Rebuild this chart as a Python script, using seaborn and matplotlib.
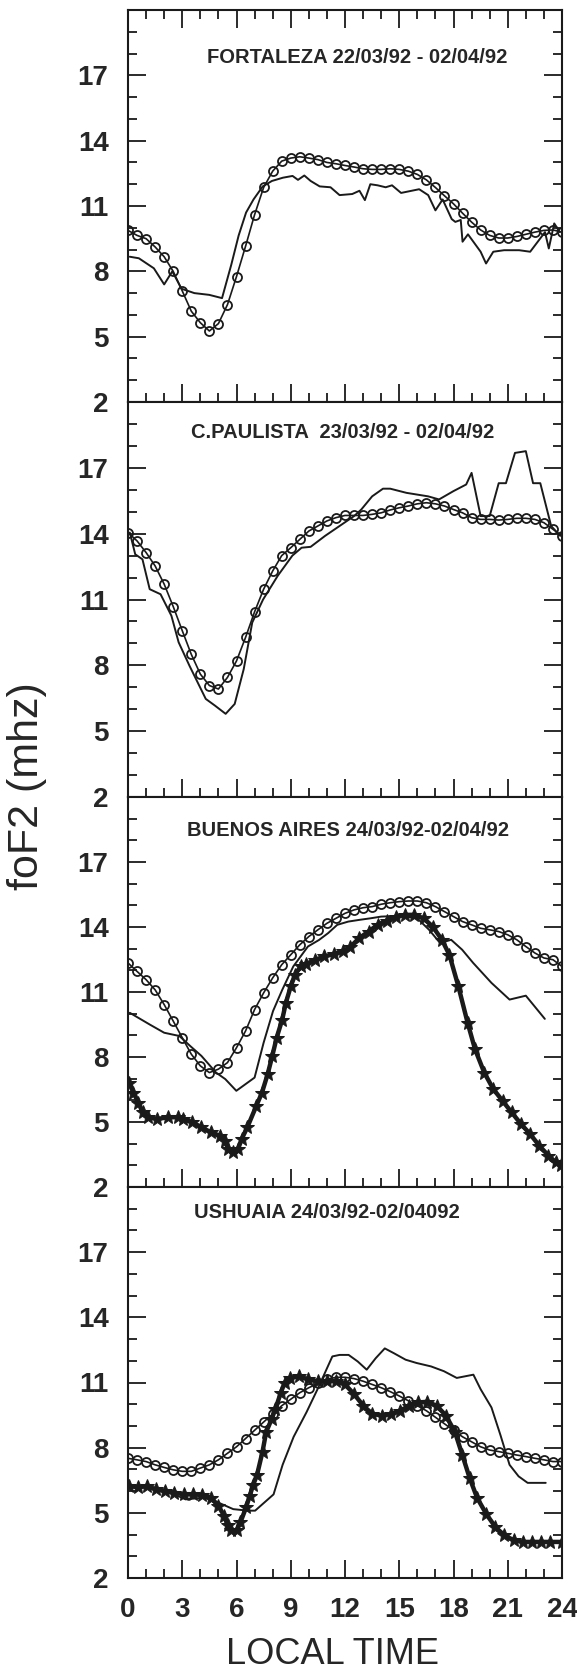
import numpy as np
import seaborn as sns
import matplotlib.pyplot as plt
from matplotlib.ticker import MultipleLocator

# half-hour grid of the model curves (open circles)
half_hours = np.arange(0, 24.5, 0.5)

# FORTALEZA
forta_model = [9.88, 9.65, 9.5, 9.12, 8.67, 8.0, 7.1, 6.17, 5.64, 5.26, 5.6, 6.47, 7.76, 9.15, 10.6, 11.85,
               12.6, 13.06, 13.2, 13.26, 13.2, 13.13, 13.0, 12.94, 12.86, 12.79, 12.71, 12.68, 12.68, 12.71,
               12.68, 12.6, 12.45, 12.2, 11.85, 11.47, 11.1, 10.67, 10.26, 9.9, 9.65, 9.53, 9.53, 9.6, 9.7,
               9.8, 9.88, 9.9, 9.8]
forta_obs_t = [0.1, 0.6, 1.43, 2.0, 2.45, 2.96, 3.67, 4.49, 5.2, 5.71, 6.12, 6.53, 6.94, 7.45, 7.96, 8.57,
               9.1, 9.4, 9.75, 10.1, 10.6, 11.2, 11.7, 12.4, 12.8, 13.1, 13.4, 13.8, 14.25, 14.6, 15.1, 16.1,
               16.6, 17.0, 17.4, 17.9, 18.1, 18.4, 18.5, 18.8, 19.5, 19.8, 20.2, 20.8, 21.63, 22.24, 22.65,
               23.06, 23.27, 23.57, 23.88]
forta_obs = [8.67, 8.6, 8.14, 7.4, 8.0, 7.2, 7.0, 6.92, 6.77, 8.3, 9.65, 10.7, 11.3, 11.9, 12.15, 12.3,
             12.38, 12.2, 12.4, 12.15, 11.9, 11.86, 11.5, 11.55, 11.7, 11.27, 12.0, 11.95, 11.86, 11.95, 11.6,
             11.77, 11.5, 10.8, 11.3, 10.4, 10.27, 10.36, 9.36, 9.7, 8.9, 8.36, 8.9, 8.97, 8.97, 8.9, 9.35,
             9.8, 9.05, 10.2, 9.8]

# C.PAULISTA
cp_model = [14.05, 13.67, 13.14, 12.53, 11.7, 10.68, 9.58, 8.5, 7.6, 7.08, 6.92, 7.45, 8.2, 9.27, 10.44,
            11.47, 12.3, 13.0, 13.36, 13.74, 14.12, 14.35, 14.58, 14.73, 14.83, 14.83, 14.83, 14.88, 14.95,
            15.08, 15.18, 15.26, 15.36, 15.41, 15.36, 15.26, 15.1, 14.95, 14.73, 14.65, 14.65, 14.62, 14.65,
            14.7, 14.7, 14.65, 14.5, 14.2, 13.9]
cp_obs_t = [0.1, 0.4, 0.8, 1.2, 1.8, 2.4, 2.8, 3.4, 4.3, 4.8, 5.4, 5.9, 6.4, 6.87, 7.47, 8.28, 9.09, 9.6,
            10.1, 10.9, 11.7, 12.5, 12.9, 13.5, 14.1, 14.5, 15.4, 16.6, 17.2, 18.0, 18.7, 19.0, 19.5, 20.0,
            20.5, 20.9, 21.4, 22.0, 22.4, 22.8, 23.4, 23.9]
cp_obs = [14.05, 13.06, 12.83, 11.47, 11.24, 10.26, 9.05, 7.98, 6.47, 6.17, 5.79, 6.24, 7.83, 9.95, 11.0,
          12.08, 13.0, 13.36, 13.4, 13.9, 14.35, 14.8, 15.1, 15.7, 16.05, 16.05, 15.86, 15.7, 15.56, 15.94,
          16.24, 16.77, 14.8, 14.8, 16.3, 16.3, 17.68, 17.76, 16.3, 16.3, 14.35, 13.9]

# BUENOS AIRES
ba_model = [12.34, 11.95, 11.57, 11.1, 10.42, 9.66, 8.89, 8.13, 7.59, 7.28, 7.44, 7.74, 8.43, 9.2, 10.19,
            10.96, 11.65, 12.26, 12.72, 13.18, 13.56, 13.87, 14.17, 14.4, 14.63, 14.79, 14.89, 14.94, 15.05,
            15.12, 15.17, 15.2, 15.2, 15.12, 14.94, 14.71, 14.48, 14.25, 14.1, 13.94, 13.87, 13.79, 13.64,
            13.41, 13.1, 12.8, 12.57, 12.49, 12.18]
ba_obs_t = [0.1, 1.2, 2.0, 2.84, 3.45, 4.06, 4.87, 5.38, 5.99, 7.0, 7.5, 8.02, 8.53, 9.14, 9.95, 10.56,
            11.07, 11.57, 12.18, 12.8, 13.4, 14.0, 14.6, 15.4, 16.0, 16.65, 17.26, 17.87, 18.48, 19.09,
            20.1, 21.1, 22.0, 23.05]
ba_obs = [10.04, 9.5, 9.12, 8.97, 8.5, 8.05, 7.28, 6.98, 6.44, 7.05, 8.66, 10.12, 11.1, 12.18, 13.1, 13.4,
          13.72, 14.1, 14.25, 14.33, 14.4, 14.48, 14.5, 14.48, 14.4, 13.87, 13.26, 13.41, 12.95, 12.34,
          11.42, 10.65, 10.83, 9.76]
ba_star_t = [0.04, 0.3, 0.57, 0.81, 1.08, 1.62, 2.23, 2.74, 3.05, 3.55, 4.06, 4.57, 5.08, 5.38, 5.52, 5.79,
             6.09, 6.29, 6.6, 7.1, 7.41, 7.72, 7.98, 8.22, 8.53, 8.73, 9.0, 9.24, 9.54, 9.85, 10.36, 10.86,
             11.37, 11.88, 12.28, 12.79, 13.3, 13.8, 14.31, 14.82, 15.33, 15.84, 16.35, 16.85, 17.36, 17.77,
             18.27, 18.78, 19.19, 19.7, 20.2, 20.71, 21.22, 21.73, 22.23, 22.74, 23.25, 23.65, 23.96]
ba_star = [6.82, 6.36, 5.9, 5.44, 5.22, 5.14, 5.22, 5.22, 5.14, 4.99, 4.76, 4.53, 4.37, 4.14, 3.76, 3.6,
           3.76, 4.22, 4.76, 5.75, 6.36, 7.2, 8.05, 8.89, 9.73, 10.5, 11.26, 11.8, 12.18, 12.29, 12.49,
           12.64, 12.75, 12.87, 13.07, 13.49, 13.79, 14.1, 14.3, 14.48, 14.56, 14.56, 14.4, 14.02, 13.41,
           12.72, 11.26, 9.58, 8.36, 7.28, 6.52, 5.98, 5.44, 4.91, 4.45, 3.91, 3.45, 3.15, 3.0]

# USHUAIA
us_model = [7.51, 7.44, 7.36, 7.21, 7.09, 6.98, 6.91, 6.91, 7.06, 7.21, 7.44, 7.74, 8.04, 8.42, 8.8, 9.18,
            9.55, 9.93, 10.23, 10.53, 10.76, 10.96, 11.14, 11.24, 11.24, 11.18, 11.06, 10.91, 10.76, 10.58,
            10.38, 10.16, 9.93, 9.7, 9.4, 9.1, 8.8, 8.5, 8.27, 8.04, 7.89, 7.82, 7.74, 7.66, 7.59, 7.51,
            7.44, 7.36, 7.36]
us_obs_t = [0.0, 1.36, 2.57, 3.18, 4.2, 5.0, 5.82, 6.63, 7.03, 8.05, 8.55, 9.16, 9.87, 10.48, 11.3, 11.7,
            12.2, 12.7, 13.2, 13.7, 14.2, 14.7, 15.35, 15.95, 16.76, 17.47, 18.18, 19.1, 19.5, 20.1, 20.6,
            21.1, 21.6, 22.1, 22.5, 23.1]
us_obs = [6.3, 6.08, 5.85, 5.62, 5.7, 5.47, 5.17, 5.1, 5.1, 5.85, 7.21, 8.5, 9.63, 10.69, 12.2, 12.27,
          12.27, 11.97, 11.59, 12.12, 12.57, 12.35, 12.05, 11.9, 11.74, 11.52, 11.21, 11.36, 10.69, 9.85,
          8.57, 7.21, 6.68, 6.38, 6.38, 6.38]
us_star_t = [0.04, 0.55, 1.05, 1.56, 2.07, 2.57, 3.08, 3.59, 4.09, 4.6, 5.0, 5.31, 5.51, 5.72, 6.02, 6.22,
             6.53, 6.73, 6.93, 7.14, 7.44, 7.64, 7.95, 8.15, 8.45, 8.66, 8.96, 9.47, 9.97, 10.48, 10.99,
             11.49, 12.0, 12.51, 13.01, 13.52, 14.03, 14.53, 15.04, 15.55, 16.05, 16.56, 17.07, 17.58,
             18.08, 18.49, 18.89, 19.3, 19.81, 20.32, 20.82, 21.33, 21.83, 22.34, 22.85, 23.35, 24.0]
us_star = [6.23, 6.18, 6.23, 6.08, 6.0, 5.93, 5.85, 5.85, 5.82, 5.7, 5.32, 4.87, 4.42, 4.19, 4.19, 4.57,
           5.25, 5.78, 6.3, 6.76, 7.82, 8.72, 9.33, 9.78, 10.53, 10.99, 11.21, 11.29, 11.14, 11.06, 11.06,
           11.06, 10.91, 10.46, 9.93, 9.55, 9.48, 9.55, 9.7, 9.93, 10.08, 10.11, 9.93, 9.48, 8.72, 7.66,
           6.61, 5.7, 4.95, 4.34, 3.96, 3.74, 3.66, 3.66, 3.66, 3.66, 3.66]

titles = ["FORTALEZA 22/03/92 - 02/04/92", "C.PAULISTA  23/03/92 - 02/04/92",
          "BUENOS AIRES 24/03/92-02/04/92", "USHUAIA 24/03/92-02/04092"]
title_pos = [(0.527, 0.878), (0.495, 0.924), (0.508, 0.915), (0.458, 0.934)]
y_ticks = [2, 5, 8, 11, 14, 17]
x_ticks = [0, 3, 6, 9, 12, 15, 18, 21, 24]

panels = [
    (forta_obs_t, forta_obs, forta_model, None, None),
    (cp_obs_t, cp_obs, cp_model, None, None),
    (ba_obs_t, ba_obs, ba_model, ba_star_t, ba_star),
    (us_obs_t, us_obs, us_model, us_star_t, us_star),
]

sns.set_theme(style="ticks")
plt.rcParams['font.family'] = ['Liberation Sans', 'DejaVu Sans']

W, H = 577, 1675
fig = plt.figure(figsize=(W / 100, H / 100), dpi=100)

left_px, right_px = 128, 562
edges = [10, 402, 797, 1187, 1578]

for i, (obs_t, obs_v, model_v, star_t, star_v) in enumerate(panels):
    top, bot = edges[i], edges[i + 1]
    ax = fig.add_axes([left_px / W, 1 - bot / H, (right_px - left_px) / W, (bot - top) / H])

    sns.lineplot(x=obs_t, y=obs_v, ax=ax, color='k', linewidth=1.4, estimator=None, sort=False)
    sns.lineplot(x=half_hours, y=model_v, ax=ax, color='k', linewidth=1.2, marker='o',
                 markersize=6.5, markerfacecolor='none', markeredgecolor='k', markeredgewidth=1.3,
                 estimator=None, sort=False)
    if star_t is not None:
        sns.lineplot(x=star_t, y=star_v, ax=ax, color='k', linewidth=3.2, marker='*',
                     markersize=10.5, markeredgecolor='k', estimator=None, sort=False)

    ax.set_xlim(0, 24)
    ax.set_ylim(2, 20)
    ax.set_xticks(x_ticks)
    ax.set_yticks(y_ticks)
    ax.xaxis.set_minor_locator(MultipleLocator(1))
    ax.yaxis.set_minor_locator(MultipleLocator(1))
    ax.tick_params(which='both', direction='in', left=True, right=True, bottom=True,
                   top=(i == 0), width=1.3, color='k')
    ax.tick_params(which='major', length=13)
    ax.tick_params(which='minor', length=6.5)
    ax.tick_params(axis='y', labelsize=20, pad=14)
    ax.tick_params(axis='x', labelsize=20, pad=14, labelbottom=(i == 3))
    for lbl in ax.get_yticklabels() + ax.get_xticklabels():
        lbl.set_fontweight('bold')
    for sp in ax.spines.values():
        sp.set_visible(True)
        sp.set_linewidth(1.5)
        sp.set_color('k')
    ax.set_xlabel('')
    ax.set_ylabel('')

    ax.text(title_pos[i][0], title_pos[i][1], titles[i], transform=ax.transAxes,
            ha='center', va='center', fontsize=14.5, fontweight='bold')

fig.text(27 / W, 1 - 786 / H, 'foF2 (mhz)', rotation=90, ha='center', va='center', fontsize=31)
fig.text(333 / W, 1 - 1664 / H, 'LOCAL TIME', ha='center', va='baseline', fontsize=26)

fig.savefig('out.png', dpi=100)
